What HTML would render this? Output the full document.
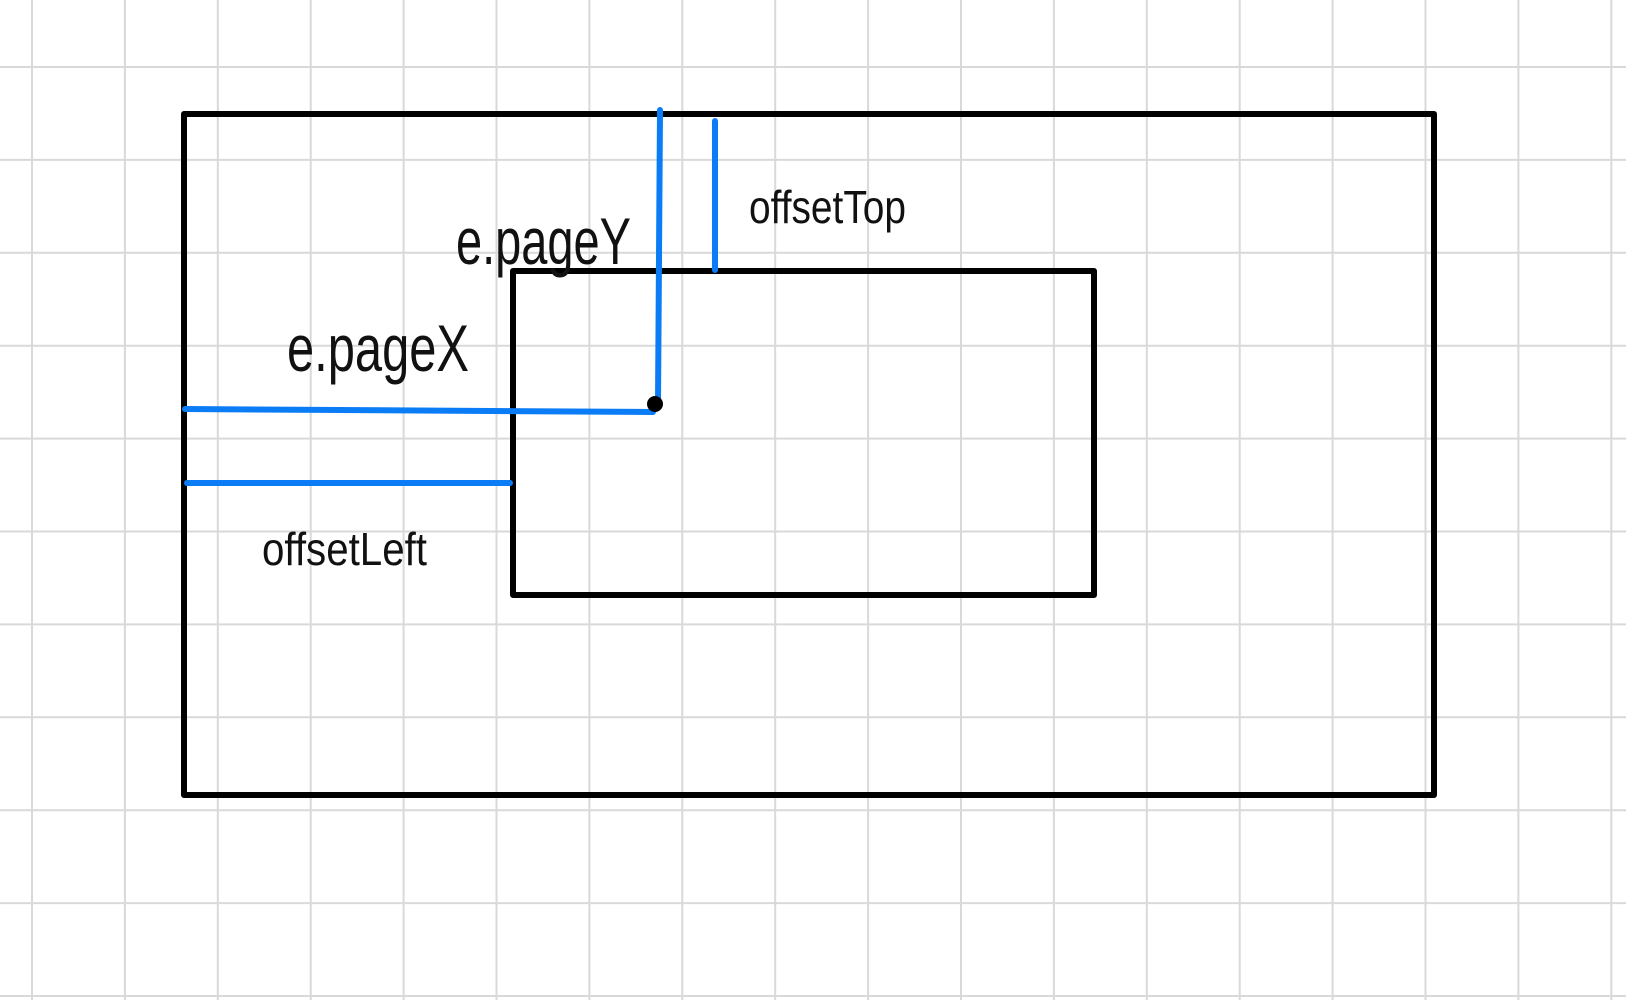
<!DOCTYPE html>
<html>
<head>
<meta charset="utf-8">
<style>
  html,body{margin:0;padding:0;background:#fff;}
  svg{display:block;}
  text{font-family:"Liberation Sans",sans-serif;fill:#111;}
</style>
</head>
<body>
<svg width="1626" height="1000" viewBox="0 0 1626 1000">
  <g id="grid"></g>

  <rect x="184" y="114" width="1250" height="681" fill="none" stroke="#000" stroke-width="6" stroke-linejoin="round"/>
  <rect x="513" y="271" width="581" height="324" fill="none" stroke="#000" stroke-width="6" stroke-linejoin="round"/>

  <line x1="185" y1="409" x2="653" y2="412" stroke="#0a7cf5" stroke-width="6" stroke-linecap="round"/>
  <line x1="187" y1="483" x2="510" y2="483" stroke="#0a7cf5" stroke-width="6" stroke-linecap="round"/>
  <line x1="660" y1="110" x2="658" y2="404" stroke="#0a7cf5" stroke-width="6" stroke-linecap="round"/>
  <line x1="715" y1="121" x2="715" y2="270" stroke="#0a7cf5" stroke-width="6" stroke-linecap="round"/>
  <circle cx="655" cy="404" r="8" fill="#000"/>

  <text x="456" y="264" font-size="66" textLength="175" lengthAdjust="spacingAndGlyphs">e.pageY</text>
  <text x="287" y="371" font-size="66" textLength="182" lengthAdjust="spacingAndGlyphs">e.pageX</text>
  <text x="749" y="223" font-size="46" textLength="157" lengthAdjust="spacingAndGlyphs">offsetTop</text>
  <text x="262" y="565" font-size="46" textLength="165" lengthAdjust="spacingAndGlyphs">offsetLeft</text>
</svg>
<script>
  const g = document.getElementById('grid');
  const ns = 'http://www.w3.org/2000/svg';
  for (let i = 0; i < 18; i++) {
    const x = 32 + i * 92.9;
    const l = document.createElementNS(ns, 'line');
    l.setAttribute('x1', x); l.setAttribute('x2', x);
    l.setAttribute('y1', 0); l.setAttribute('y2', 1000);
    l.setAttribute('stroke', '#d9d9d9'); l.setAttribute('stroke-width', '2');
    
    
    g.appendChild(l);
  }
  for (let j = 0; j < 11; j++) {
    const y = 67 + j * 92.9;
    const l = document.createElementNS(ns, 'line');
    l.setAttribute('y1', y); l.setAttribute('y2', y);
    l.setAttribute('x1', 0); l.setAttribute('x2', 1626);
    l.setAttribute('stroke', '#d9d9d9'); l.setAttribute('stroke-width', '2');
    
    
    g.appendChild(l);
  }
</script>
</body>
</html>
